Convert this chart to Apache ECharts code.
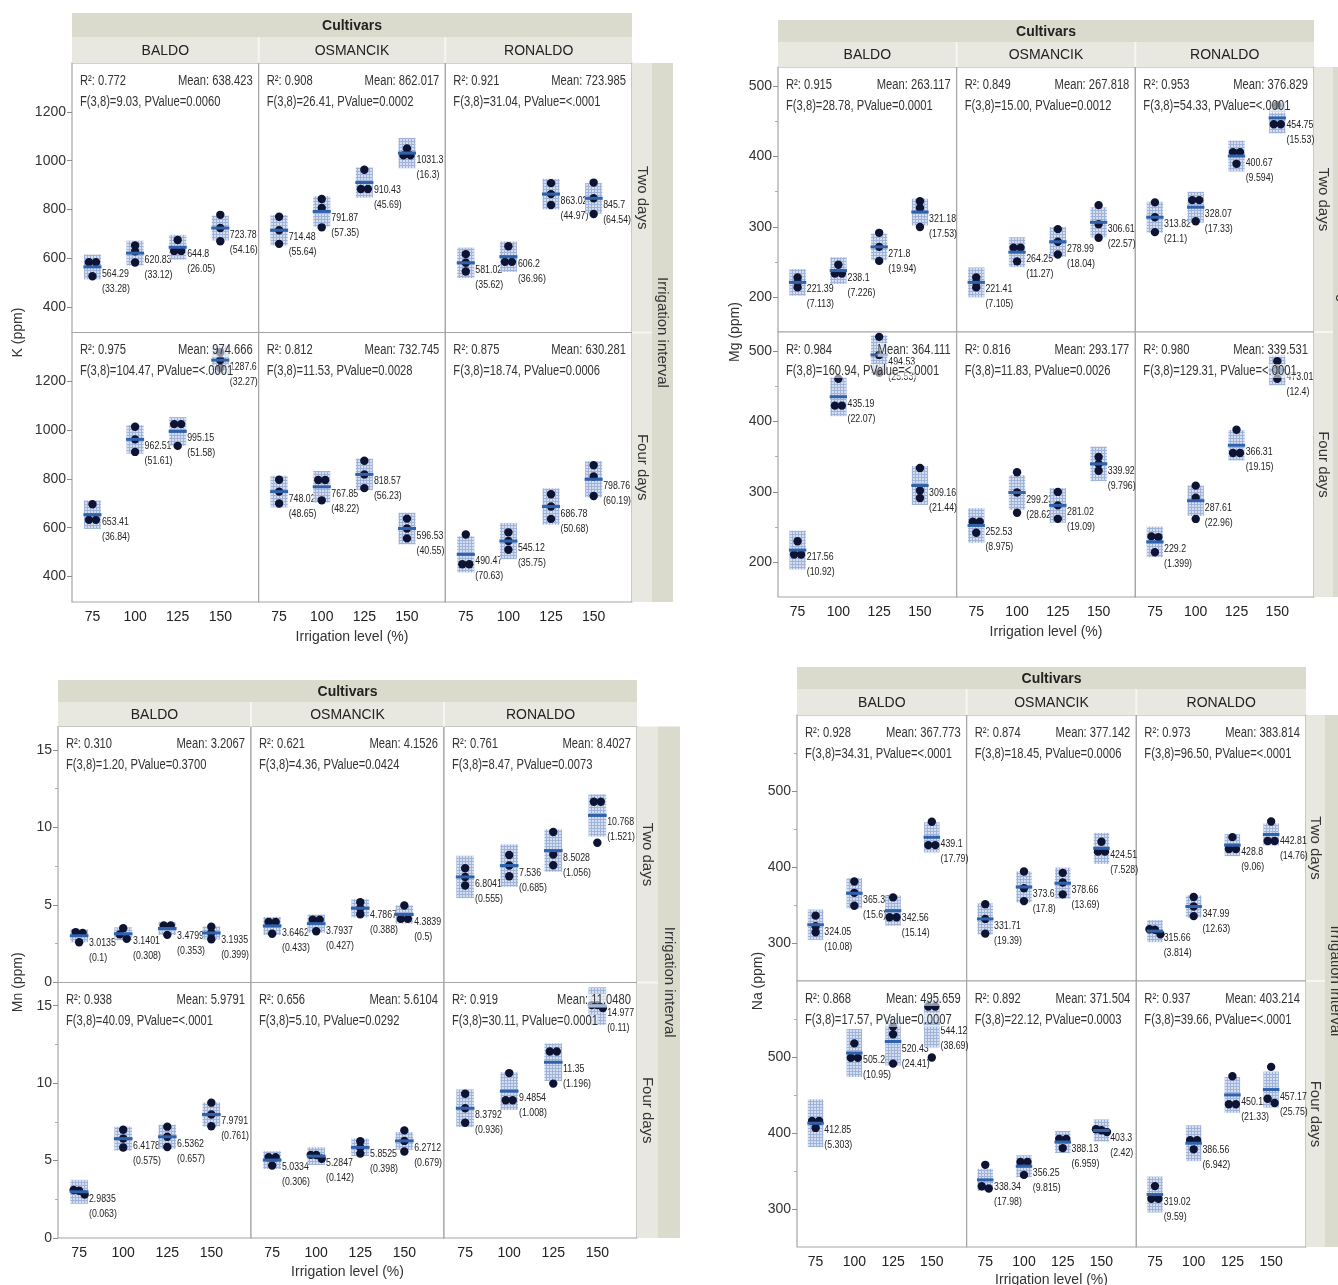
<!DOCTYPE html>
<html><head><meta charset="utf-8">
<script src="https://cdn.jsdelivr.net/npm/echarts@6/dist/echarts.min.js"></script>
<style>html,body{margin:0;padding:0;background:#fff}#c{width:1338px;height:1285px}</style>
</head><body><div id="c"></div><script>
// ---------- categories / ticks ----------
const irrigation = [75, 100, 125, 150];
const cultivars = ['BALDO', 'OSMANCIK', 'RONALDO'];
const intervals = ['Two days', 'Four days'];
const K_yTicks = [400, 600, 800, 1000, 1200];
const Mg_yTicks = [200, 300, 400, 500];
const Mg_yMinor = [250, 350, 450];
const Mn_yTicks = [0, 5, 10, 15];
const Mn_yMinor = [2.5, 7.5, 12.5];
const Na_yTicks = [300, 400, 500];
const Na_yMinor = [350, 450, 550];

// ---------- K ----------
const K_twoMean = [[564.29, 620.83, 644.8, 723.78], [714.48, 791.87, 910.43, 1031.3], [581.02, 606.2, 863.02, 845.7]];
const K_twoSD = [[33.28, 33.12, 26.05, 54.16], [55.64, 57.35, 45.69, 16.3], [35.62, 36.96, 44.97, 64.54]];
const K_twoPts = [
  [[583.5, 583.5, 525.9], [652, 628, 582.5], [674.9, 629.8, 629.8], [777.9, 723.8, 669.6]],
  [[770.1, 714.5, 658.8], [843, 806, 726.6], [963.2, 884.1, 884.1], [1050.1, 1021.9, 1021.9]],
  [[616.6, 581, 545.4], [648.9, 584.9, 584.9], [908, 863, 818], [910.2, 845.7, 781.2]]];
const K_twoCI = [50.8, 62.2, 62.5];
const K_twoR2 = ['0.772', '0.908', '0.921'];
const K_twoGrand = ['638.423', '862.017', '723.985'];
const K_twoF = ['9.03', '26.41', '31.04'];
const K_twoP = ['0.0060', '0.0002', '<.0001'];

const K_fourMean = [[653.41, 962.51, 995.15, 1287.6], [748.02, 767.85, 818.57, 596.53], [490.47, 545.12, 686.78, 798.76]];
const K_fourSD = [[36.84, 51.61, 51.58, 32.27], [48.65, 48.22, 56.23, 40.55], [70.63, 35.75, 50.68, 60.19]];
const K_fourPts = [
  [[695.9, 632.1, 632.1], [1014.1, 962.5, 910.9], [1024.9, 1024.9, 935.6], [1320, 1287.6, 1255.2]],
  [[796.7, 748, 699.4], [795.7, 795.7, 712.2], [874.8, 818.6, 762.3], [637.1, 596.5, 556]],
  [[572.1, 449.7, 449.7], [580.9, 545.1, 509.4], [737.5, 686.8, 636.1], [856, 810, 730.3]]];
const K_fourCI = [58.5, 64.9, 74.3];
const K_fourR2 = ['0.975', '0.812', '0.875'];
const K_fourGrand = ['974.666', '732.745', '630.281'];
const K_fourF = ['104.47', '11.53', '18.74'];
const K_fourP = ['<.0001', '0.0028', '0.0006'];

// ---------- Mg ----------
const Mg_twoMean = [[221.39, 238.1, 271.8, 321.18], [221.41, 264.25, 278.99, 306.61], [313.82, 328.07, 400.67, 454.75]];
const Mg_twoSD = [[7.113, 7.226, 19.94, 17.53], [7.105, 11.27, 18.04, 22.57], [21.1, 17.33, 9.594, 15.53]];
const Mg_twoPts = [
  [[228.5, 221.4, 214.3], [246.4, 233.9, 233.9], [291.7, 271.8, 251.9], [336.5, 327, 300]],
  [[228.5, 221.4, 214.3], [270.75, 270.75, 251.25], [297, 279, 261], [331, 304, 284.8]],
  [[334.9, 313.8, 292.7], [338.1, 338.1, 308.1], [406.2, 406.2, 389.6], [472.7, 445.8, 445.8]]];
const Mg_twoCI = [18.9, 21.2, 21.9];
const Mg_twoR2 = ['0.915', '0.849', '0.953'];
const Mg_twoGrand = ['263.117', '267.818', '376.829'];
const Mg_twoF = ['28.78', '15.00', '54.33'];
const Mg_twoP = ['0.0001', '0.0012', '<.0001'];

const Mg_fourMean = [[217.56, 435.19, 494.53, 309.16], [252.53, 299.23, 281.02, 339.92], [229.2, 287.61, 366.31, 473.01]];
const Mg_fourSD = [[10.92, 22.07, 25.53, 21.44], [8.975, 28.62, 19.09, 9.796], [1.399, 22.96, 19.15, 12.4]];
const Mg_fourPts = [
  [[230.2, 211.3, 211.3], [460.7, 422.5, 422.5], [520.1, 494.5, 469], [334, 302, 291.5]],
  [[257.7, 257.7, 242.2], [327.9, 299.2, 270.6], [300.1, 281, 261.9], [349.7, 339.9, 330.1]],
  [[237, 236, 214.6], [309, 292, 261.8], [388.4, 355.3, 355.3], [485.4, 473, 460.6]]];
const Mg_fourCI = [27.6, 24.5, 21.6];
const Mg_fourR2 = ['0.984', '0.816', '0.980'];
const Mg_fourGrand = ['364.111', '293.177', '339.531'];
const Mg_fourF = ['160.94', '11.83', '129.31'];
const Mg_fourP = ['<.0001', '0.0026', '<.0001'];

// ---------- Mn ----------
const Mn_twoMean = [[3.0135, 3.1401, 3.4799, 3.1935], [3.6462, 3.7937, 4.7867, 4.3839], [6.8041, 7.536, 8.5028, 10.768]];
const Mn_twoSD = [[0.1, 0.308, 0.353, 0.399], [0.433, 0.427, 0.388, 0.5], [0.555, 0.685, 1.056, 1.521]];
const Mn_twoPts = [
  [[3.25, 3.2, 2.59], [3.5, 3.1, 2.82], [3.68, 3.68, 3.07], [3.59, 3.19, 2.79]],
  [[3.9, 3.9, 3.14], [4.04, 4.04, 3.3], [5.17, 4.79, 4.4], [4.96, 4.1, 4.1]],
  [[7.36, 6.8, 6.25], [8.22, 7.54, 6.85], [9.7, 8.25, 7.56], [11.65, 11.65, 9.01]]];
const Mn_twoCI = [0.415, 0.584, 1.365];
const Mn_twoR2 = ['0.310', '0.621', '0.761'];
const Mn_twoGrand = ['3.2067', '4.1526', '8.4027'];
const Mn_twoF = ['1.20', '4.36', '8.47'];
const Mn_twoP = ['0.3700', '0.0424', '0.0073'];

const Mn_fourMean = [[2.9835, 6.4178, 6.5362, 7.9791], [5.0334, 5.2847, 5.8525, 6.2712], [8.3792, 9.4854, 11.35, 14.977]];
const Mn_fourSD = [[0.063, 0.575, 0.657, 0.761], [0.306, 0.142, 0.398, 0.679], [0.936, 1.008, 1.196, 0.11]];
const Mn_fourPts = [
  [[3.1, 3.05, 2.8], [6.99, 6.42, 5.84], [7.19, 6.54, 5.88], [8.74, 7.98, 7.22]],
  [[5.21, 5.21, 4.68], [5.37, 5.36, 5.12], [6.25, 5.85, 5.45], [6.95, 6.27, 5.59]],
  [[9.32, 8.38, 7.44], [10.65, 8.9, 8.9], [12.04, 12.04, 9.97], [15.04, 15.04, 14.85]]];
const Mn_fourCI = [0.772, 0.570, 1.216];
const Mn_fourR2 = ['0.938', '0.656', '0.919'];
const Mn_fourGrand = ['5.9791', '5.6104', '11.0480'];
const Mn_fourF = ['40.09', '5.10', '30.11'];
const Mn_fourP = ['<.0001', '0.0292', '0.0001'];

// ---------- Na ----------
const Na_twoMean = [[324.05, 365.38, 342.56, 439.1], [331.71, 373.69, 378.66, 424.51], [315.66, 347.99, 428.8, 442.81]];
const Na_twoSD = [[10.08, 15.6, 15.14, 17.79], [19.39, 17.8, 13.69, 7.528], [3.814, 12.63, 9.06, 14.76]];
const Na_twoPts = [
  [[336, 322, 314.2], [381, 366, 349.1], [360, 333.8, 333.8], [459.6, 428.8, 428.8]],
  [[351.1, 331.7, 312.3], [394, 372, 355.1], [392.3, 379.7, 364], [433.2, 420.2, 420.2]],
  [[318, 317.5, 311.5], [360.6, 348, 335.4], [439.3, 423.6, 423.6], [459.9, 434.3, 434.3]]];
const Na_twoCI = [19.9, 20.4, 14.5];
const Na_twoR2 = ['0.928', '0.874', '0.973'];
const Na_twoGrand = ['367.773', '377.142', '383.814'];
const Na_twoF = ['34.31', '18.45', '96.50'];
const Na_twoP = ['<.0001', '0.0006', '<.0001'];

const Na_fourMean = [[412.85, 505.24, 520.43, 544.12], [338.34, 356.25, 388.13, 403.3], [319.02, 386.56, 450.11, 457.17]];
const Na_fourSD = [[5.303, 10.95, 24.41, 38.69], [17.98, 9.815, 6.959, 2.42], [9.59, 6.942, 21.33, 25.75]];
const Na_fourPts = [
  [[415.9, 415.9, 406.7], [517.9, 498.9, 498.9], [540, 530, 491.3], [566.5, 566.5, 499.4]],
  [[358.1, 330, 327], [361.9, 361.9, 344.9], [392.1, 392.1, 380.1], [405, 403.7, 401.2]],
  [[330.1, 313.5, 313.5], [390.6, 390.6, 378.5], [474.7, 437.8, 437.8], [487, 445, 439.5]]];
const Na_fourCI = [31.5, 14.5, 23.6];
const Na_fourR2 = ['0.868', '0.892', '0.937'];
const Na_fourGrand = ['495.659', '371.504', '403.214'];
const Na_fourF = ['17.57', '22.12', '39.66'];
const Na_fourP = ['0.0007', '0.0003', '<.0001'];

// ---------- styles ----------
const SANS = '"Liberation Sans", Arial, sans-serif';
const NARROW_SCALE = 0.8;
const X_MIN = 63, X_MAX = 172.5, BOX_HALF = 5;
const HEAD1 = '#dadacd', HEAD2 = '#e8e8e1';

const pc = document.createElement('canvas');
pc.width = 3; pc.height = 3;
const pg = pc.getContext('2d');
pg.fillStyle = '#d6dff0'; pg.fillRect(0, 0, 3, 3);
pg.fillStyle = '#9fb3da'; pg.fillRect(0, 0, 3, 1); pg.fillRect(0, 0, 1, 3);
const boxFill = { image: pc, repeat: 'repeat' };

function txtStyle(t, font, fill, align, valign) {
  return { text: t, font: font, fill: fill, textAlign: align, textVerticalAlign: valign, align: align, verticalAlign: valign };
}

function renderGroup(params, api) {
  const xv = api.value(0), m = api.value(1), sd = api.value(2), ci = api.value(3);
  const pts = [api.value(4), api.value(5), api.value(6)];
  const c = api.coord([xv, m]);
  const xl = api.coord([xv - BOX_HALF, m])[0], xr = api.coord([xv + BOX_HALF, m])[0];
  const yt = api.coord([xv, m + ci])[1], yb = api.coord([xv, m - ci])[1];
  const ch = [];
  ch.push({ type: 'rect', shape: { x: xl, y: yt, width: xr - xl, height: yb - yt }, style: { fill: boxFill } });
  const ys = pts.map(v => api.coord([xv, v])[1]);
  const order = [0, 1, 2].sort((a, b) => ys[a] - ys[b]);
  const groups = []; let cur = [order[0]];
  for (let i = 1; i < 3; i++) {
    if (ys[order[i]] - ys[cur[cur.length - 1]] < 5) cur.push(order[i]);
    else { groups.push(cur); cur = [order[i]]; }
  }
  groups.push(cur);
  const offs = [0, 0, 0];
  groups.forEach(g => {
    if (g.length === 2) { offs[g[0]] = -3.5; offs[g[1]] = 3.5; }
    else if (g.length === 3) { offs[g[0]] = -5.5; offs[g[1]] = 0; offs[g[2]] = 5.5; }
  });
  pts.forEach((v, i) => ch.push({ type: 'circle', shape: { cx: c[0] + offs[i], cy: ys[i], r: 4.2 }, style: { fill: '#0d1333' } }));
  ch.push({ type: 'rect', shape: { x: xl - 0.5, y: c[1] - 1.5, width: xr - xl + 1, height: 3 }, style: { fill: '#2f62ad' } });
  ch.push({ type: 'text', x: xr + 1, y: c[1] + 7, scaleX: NARROW_SCALE, style: txtStyle(String(m), '11px ' + SANS, '#222', 'left', 'middle') });
  ch.push({ type: 'text', x: xr + 1, y: c[1] + 22, scaleX: NARROW_SCALE, style: txtStyle('(' + String(sd) + ')', '11px ' + SANS, '#222', 'left', 'middle') });
  return { type: 'group', children: ch };
}

const panels = [
  { yTitle: 'K (ppm)', yMin: 295, yMax: 1401, yTicks: K_yTicks, yMinor: [],
    geom: { left: 72, right: 632, h1: 13, h2: 37, top: 63, mid: 332.5, bottom: 602, inner: [632, 652], outer: [652, 673], xTitleY: 637, yTitleX: 18 },
    rows: [
      { mean: K_twoMean, sd: K_twoSD, pts: K_twoPts, ci: K_twoCI, r2: K_twoR2, grand: K_twoGrand, f: K_twoF, p: K_twoP },
      { mean: K_fourMean, sd: K_fourSD, pts: K_fourPts, ci: K_fourCI, r2: K_fourR2, grand: K_fourGrand, f: K_fourF, p: K_fourP }] },
  { yTitle: 'Mg (ppm)', yMin: 151, yMax: 527, yTicks: Mg_yTicks, yMinor: Mg_yMinor,
    geom: { left: 778, right: 1314, h1: 20, h2: 42, top: 67, mid: 332, bottom: 597, inner: [1314, 1333], outer: [1333, 1353], xTitleY: 632, yTitleX: 735 },
    rows: [
      { mean: Mg_twoMean, sd: Mg_twoSD, pts: Mg_twoPts, ci: Mg_twoCI, r2: Mg_twoR2, grand: Mg_twoGrand, f: Mg_twoF, p: Mg_twoP },
      { mean: Mg_fourMean, sd: Mg_fourSD, pts: Mg_fourPts, ci: Mg_fourCI, r2: Mg_fourR2, grand: Mg_fourGrand, f: Mg_fourF, p: Mg_fourP }] },
  { yTitle: 'Mn (ppm)', yMin: 0, yMax: 16.5, yTicks: Mn_yTicks, yMinor: Mn_yMinor,
    geom: { left: 58, right: 637, h1: 680, h2: 702, top: 726.5, mid: 982.5, bottom: 1238, inner: [637, 658], outer: [658, 680], xTitleY: 1272, yTitleX: 18 },
    rows: [
      { mean: Mn_twoMean, sd: Mn_twoSD, pts: Mn_twoPts, ci: Mn_twoCI, r2: Mn_twoR2, grand: Mn_twoGrand, f: Mn_twoF, p: Mn_twoP },
      { mean: Mn_fourMean, sd: Mn_fourSD, pts: Mn_fourPts, ci: Mn_fourCI, r2: Mn_fourR2, grand: Mn_fourGrand, f: Mn_fourF, p: Mn_fourP }] },
  { yTitle: 'Na (ppm)', yMin: 250, yMax: 600, yTicks: Na_yTicks, yMinor: Na_yMinor,
    geom: { left: 797, right: 1306, h1: 667, h2: 689, top: 715, mid: 981, bottom: 1247, inner: [1306, 1325], outer: [1325, 1345], xTitleY: 1280, yTitleX: 758 },
    rows: [
      { mean: Na_twoMean, sd: Na_twoSD, pts: Na_twoPts, ci: Na_twoCI, r2: Na_twoR2, grand: Na_twoGrand, f: Na_twoF, p: Na_twoP },
      { mean: Na_fourMean, sd: Na_fourSD, pts: Na_fourPts, ci: Na_fourCI, r2: Na_fourR2, grand: Na_fourGrand, f: Na_fourF, p: Na_fourP }] }
];

const grids = [], xAxes = [], yAxes = [], series = [], G = [];
function gRect(x, y, w, h, fill, z) { G.push({ type: 'rect', silent: true, z: z || 1, shape: { x: x, y: y, width: w, height: h }, style: { fill: fill } }); }
function gLine(x1, y1, x2, y2, stroke, lw, z) { G.push({ type: 'line', silent: true, z: z || 2, shape: { x1: x1, y1: y1, x2: x2, y2: y2 }, style: { stroke: stroke, lineWidth: lw } }); }
function gText(t, x, y, font, fill, align, valign, rot, z, bg, sx) {
  const st = txtStyle(t, font, fill, align, valign);
  if (bg) st.backgroundColor = bg;
  G.push({ type: 'text', silent: true, x: x, y: y, rotation: rot || 0, scaleX: sx || 1, z: z || 5, style: st });
}

panels.forEach(P => {
  const g = P.geom;
  const fw = (g.right - g.left) / 3;
  const rowTop = [g.top, g.mid], rowH = [g.mid - g.top, g.bottom - g.mid];
  // header
  gRect(g.left, g.h1, g.right - g.left, g.h2 - g.h1, HEAD1);
  gText('Cultivars', (g.left + g.right) / 2, (g.h1 + g.h2) / 2 + 1, 'bold 14px ' + SANS, '#222', 'center', 'middle');
  gRect(g.left, g.h2, g.right - g.left, g.top - g.h2, HEAD2);
  cultivars.forEach((cv, c) => {
    gText(cv, g.left + fw * (c + 0.5), (g.h2 + g.top) / 2 + 1, '14px ' + SANS, '#222', 'center', 'middle');
    if (c > 0) gLine(g.left + fw * c, g.h2, g.left + fw * c, g.top, '#f7f7f2', 2);
  });
  // strips
  gRect(g.inner[0], g.top, g.inner[1] - g.inner[0], g.bottom - g.top, HEAD2);
  gRect(g.outer[0], g.top, g.outer[1] - g.outer[0], g.bottom - g.top, HEAD1);
  gLine(g.inner[0], g.mid, g.inner[1], g.mid, '#f7f7f2', 2);
  intervals.forEach((iv, r) => {
    gText(iv, (g.inner[0] + g.inner[1]) / 2, rowTop[r] + rowH[r] / 2, '15px ' + SANS, '#333', 'center', 'middle', -Math.PI / 2);
  });
  gText('Irrigation interval', (g.outer[0] + g.outer[1]) / 2, (g.top + g.bottom) / 2, '15px ' + SANS, '#333', 'center', 'middle', -Math.PI / 2);
  // axis titles
  gText('Irrigation level (%)', (g.left + g.right) / 2, g.xTitleY, '14px ' + SANS, '#333', 'center', 'middle');
  gText(P.yTitle, g.yTitleX, (g.top + g.bottom) / 2, '14px ' + SANS, '#333', 'center', 'middle', Math.PI / 2);

  P.rows.forEach((R, r) => {
    cultivars.forEach((cv, c) => {
      const gi = grids.length;
      const x0 = g.left + c * fw;
      grids.push({ left: x0, top: rowTop[r], width: fw, height: rowH[r], show: true, borderColor: '#a5a5a5', borderWidth: 1.2, backgroundColor: '#fff' });
      xAxes.push({ gridIndex: gi, type: 'value', min: X_MIN, max: X_MAX,
        axisLine: { show: false }, axisTick: { show: false }, splitLine: { show: false },
        axisLabel: r === 1 ? { show: true, customValues: irrigation, formatter: v => String(v), fontSize: 14, color: '#222', fontFamily: SANS, margin: 8 } : { show: false } });
      const yi = yAxes.length;
      yAxes.push({ gridIndex: gi, type: 'value', min: P.yMin, max: P.yMax,
        axisLine: { show: false }, splitLine: { show: false },
        axisTick: c === 0 ? { show: true, customValues: P.yTicks, length: 5, lineStyle: { color: '#8c8c8c' } } : { show: false },
        axisLabel: c === 0 ? { show: true, customValues: P.yTicks, formatter: v => String(v), fontSize: 14, color: '#333', fontFamily: SANS, margin: 6 } : { show: false } });
      if (c === 0 && P.yMinor.length) {
        yAxes.push({ gridIndex: gi, type: 'value', position: 'left', min: P.yMin, max: P.yMax,
          axisLine: { show: false }, splitLine: { show: false }, axisLabel: { show: false },
          axisTick: { show: true, customValues: P.yMinor, length: 3, lineStyle: { color: '#aaa' } } });
      }
      series.push({ type: 'custom', xAxisIndex: gi, yAxisIndex: yi, renderItem: renderGroup, clip: false, z: 3,
        data: irrigation.map((lv, i) => [lv, R.mean[c][i], R.sd[c][i], R.ci[c], R.pts[c][i][0], R.pts[c][i][1], R.pts[c][i][2]]) });
      // stats text
      const bg = 'rgba(255,255,255,0.55)';
      gText('R²: ' + R.r2[c], x0 + 8, rowTop[r] + 18, '14px ' + SANS, '#333', 'left', 'middle', 0, 100, bg, NARROW_SCALE);
      gText('Mean: ' + R.grand[c], x0 + fw - 6, rowTop[r] + 18, '14px ' + SANS, '#333', 'right', 'middle', 0, 100, bg, NARROW_SCALE);
      gText('F(3,8)=' + R.f[c] + ', PValue=' + R.p[c], x0 + 8, rowTop[r] + 39, '14px ' + SANS, '#333', 'left', 'middle', 0, 100, bg, NARROW_SCALE);
    });
  });
});

const chart = echarts.init(document.getElementById('c'), null, { renderer: 'canvas' });
chart.setOption({
  animation: false,
  backgroundColor: '#fff',
  grid: grids, xAxis: xAxes, yAxis: yAxes, series: series,
  graphic: { elements: G }
});
</script></body></html>
